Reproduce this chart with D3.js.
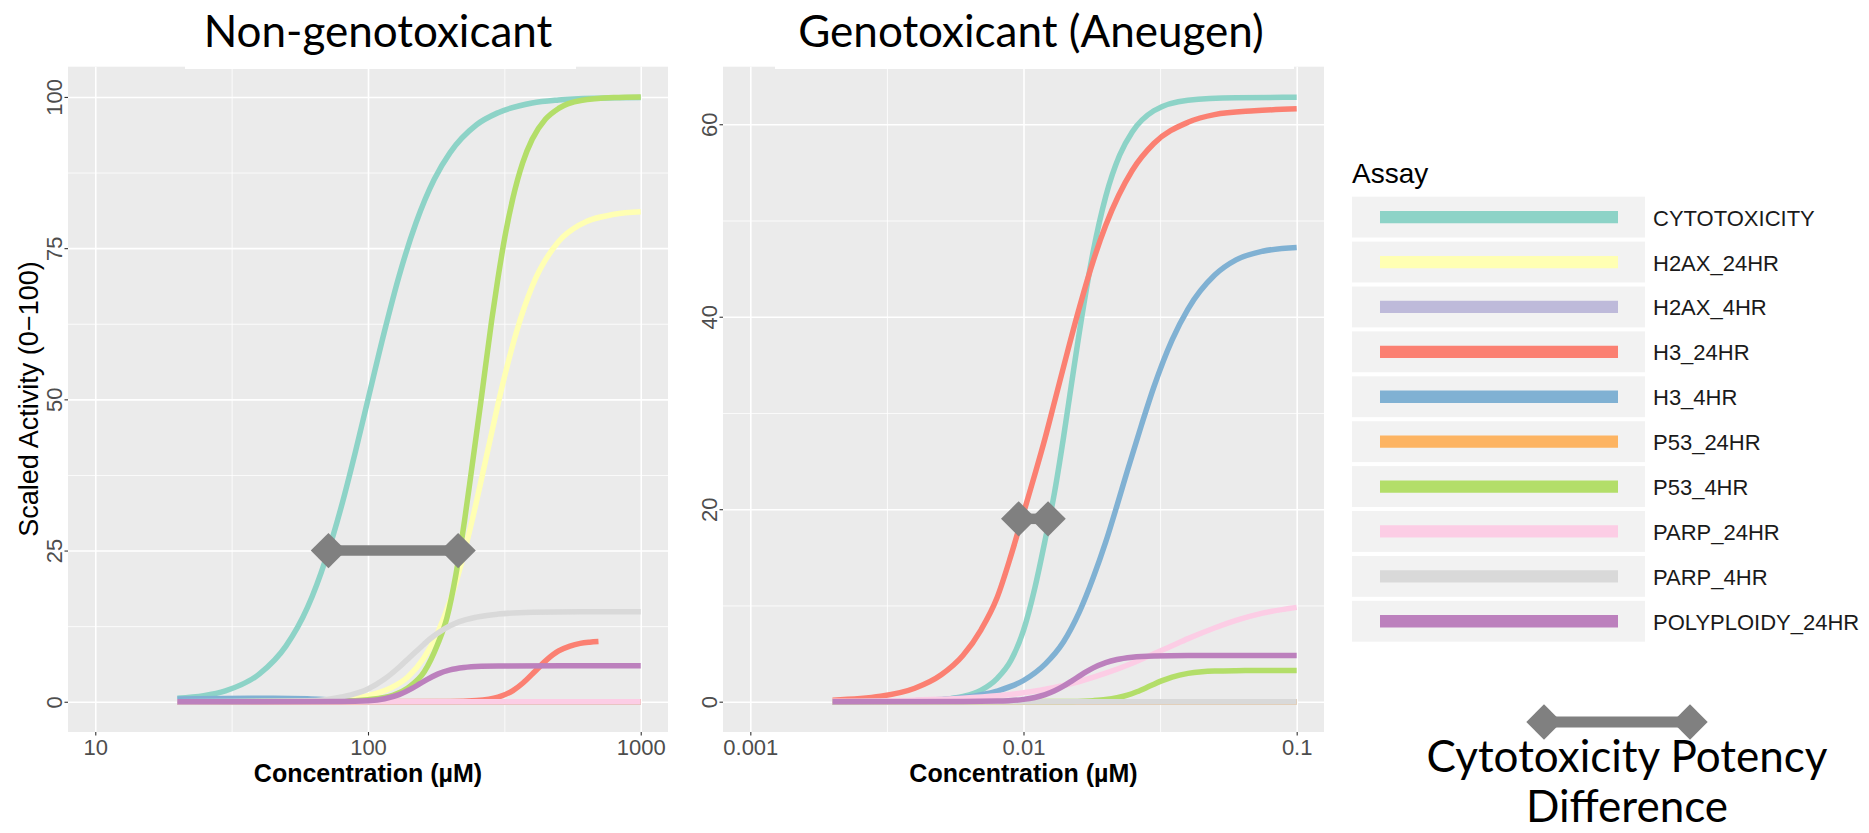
<!DOCTYPE html>
<html>
<head>
<meta charset="utf-8">
<title>Assay curves</title>
<script src="https://d3js.org/d3.v7.min.js"></script>
<style>
  body { margin: 0; background: #fff; }
  .grid line { stroke: #fff; }
  .grid .domain { stroke: none; }
  .axis .domain { stroke: none; }
  .axis line { stroke: #333; stroke-width: 1.1; }
  .axis text { fill: #4d4d4d; font-family: "Liberation Sans", Arial, sans-serif; font-size: 22px; }
</style>
</head>
<body>
<svg id="chart" width="1869" height="833"></svg>
<script>
// assays (legend order = draw order)
const assays = ["CYTOTOXICITY", "H2AX_24HR", "H2AX_4HR", "H3_24HR", "H3_4HR",
                "P53_24HR", "P53_4HR", "PARP_24HR", "PARP_4HR", "POLYPLOIDY_24HR"];
const assayColors = ["#8DD3C7", "#FFFFB3", "#BEBADA", "#FB8072", "#80B1D3",
                     "#FDB462", "#B3DE69", "#FCCDE5", "#D9D9D9", "#BC80BD"];

// ---- Non-genotoxicant: [concentration uM, scaled activity]
const nonCyto = [[20,0.6],[25,1.0],[30,1.8],[40,4.6],[50,9.2],[60,15.6],[70,23.6],[80,32.4],[90,41.4],[100,50],
  [115,61.3],[130,70.4],[150,79.2],[175,86.4],[200,90.8],[250,95.4],[300,97.4],[400,99],[500,99.5],[700,99.8],[1000,99.9]];
const nonH2ax24 = [[20,0],[60,0.1],[80,0.37],[100,1.0],[120,2.2],[140,4.1],[160,7.2],[180,11.4],[200,16.7],[220,22.9],
  [240,29.7],[260,36.6],[280,43.2],[300,49.3],[350,61.1],[400,68.7],[500,76.1],[600,78.9],[800,80.6],[1000,81.0]];
const nonH2ax4 = [[20,0],[1000,0]];
const nonH324 = [[20,0],[200,0.03],[250,0.19],[300,0.77],[340,1.85],[370,3.1],[410,5.05],[450,6.85],[500,8.4],
  [550,9.2],[600,9.65],[650,9.85],[700,9.96]];
const nonH34 = [[20,0.45],[30,0.55],[45,0.6],[60,0.5],[75,0.25],[90,0.08],[110,0],[1000,0]];
const nonP5324 = [[20,0],[1000,0]];
const nonP534 = [[20,0],[80,0.1],[100,0.35],[124,1.1],[140,2.3],[161,5],[180,9.5],[195,14],[210,21],[226,30],
  [240,38.5],[260,50],[284,63],[300,70.2],[318,77],[340,83.3],[369,89.1],[400,93],[447,96.3],[500,98.1],[603,99.4],[800,99.9],[1000,100]];
const nonParp24 = [[20,0],[1000,0]];
const nonParp4 = [[20,0],[60,0.15],[80,0.78],[100,2.1],[115,3.75],[130,5.7],[143,7.45],[155,8.9],[170,10.5],
  [190,12],[215,13.2],[250,14],[300,14.5],[400,14.8],[600,14.9],[1000,14.9]];
const nonPoly = [[20,0],[80,0.03],[100,0.17],[115,0.5],[130,1.17],[145,2.2],[155,2.98],[165,3.7],[180,4.57],
  [200,5.27],[225,5.66],[260,5.86],[300,5.92],[1000,5.95]];
const nonPotency = [71.6, 214];
const nonPotencyLevel = 25;

// ---- Genotoxicant (Aneugen)
const genoCyto = [[0.002,0],[0.004,0.06],[0.005,0.21],[0.006,0.54],[0.007,1.2],[0.008,2.4],[0.009,4.3],[0.010,7.4],
  [0.011,11.8],[0.012,16.8],[0.013,21.8],[0.014,27.4],[0.015,33.1],[0.0165,40.7],[0.018,46.8],[0.020,52.5],
  [0.0225,56.8],[0.025,59.2],[0.03,61.4],[0.04,62.5],[0.06,62.75],[0.1,62.8]];
const genoH2ax24 = [[0.002,0],[0.1,0]];
const genoH2ax4 = [[0.002,0],[0.1,0]];
const genoH324 = [[0.002,0.16],[0.003,0.56],[0.004,1.4],[0.005,2.8],[0.006,4.8],[0.007,7.5],[0.008,10.8],[0.009,15.2],
  [0.010,19.6],[0.011,23.6],[0.012,27.4],[0.013,31.2],[0.0145,36.4],[0.016,40.9],[0.018,45.8],[0.020,49.5],
  [0.025,55.2],[0.03,58],[0.04,60.2],[0.05,61.0],[0.07,61.4],[0.1,61.6]];
const genoH34 = [[0.002,0],[0.004,0.11],[0.006,0.43],[0.008,1.1],[0.010,2.2],[0.012,3.9],[0.014,6.2],[0.016,9.3],
  [0.018,12.9],[0.020,16.6],[0.022,20.4],[0.024,24],[0.027,28.7],[0.030,32.7],[0.035,37.6],[0.040,40.8],
  [0.050,44.3],[0.060,45.9],[0.075,46.8],[0.1,47.2]];
const genoP5324 = [[0.002,0],[0.1,0]];
const genoP534 = [[0.002,0],[0.012,0.01],[0.015,0.03],[0.018,0.11],[0.020,0.22],[0.022,0.41],[0.024,0.68],
  [0.026,1.03],[0.029,1.62],[0.032,2.16],[0.035,2.56],[0.040,2.94],[0.045,3.11],[0.050,3.18],[0.060,3.22],[0.1,3.25]];
const genoParp24 = [[0.002,0.04],[0.004,0.16],[0.006,0.35],[0.008,0.61],[0.010,0.93],[0.013,1.48],[0.016,2.1],
  [0.020,2.96],[0.025,4.0],[0.030,4.98],[0.035,5.82],[0.040,6.55],[0.050,7.66],[0.060,8.45],[0.075,9.2],[0.1,9.8]];
const genoParp4 = [[0.002,0],[0.1,0]];
const genoPoly = [[0.002,0],[0.006,0.01],[0.008,0.06],[0.010,0.24],[0.011,0.44],[0.012,0.73],[0.013,1.13],
  [0.014,1.61],[0.015,2.14],[0.016,2.65],[0.017,3.12],[0.018,3.51],[0.020,4.06],[0.022,4.38],[0.025,4.61],
  [0.03,4.74],[0.04,4.79],[0.1,4.8]];
const genoPotency = [0.0096, 0.0123];
const genoPotencyLevel = 19;

// ticks
const nonXTicks = [10, 100, 1000];
const nonXLabels = ["10", "100", "1000"];
const nonYTicks = [0, 25, 50, 75, 100];
const genoXTicks = [0.001, 0.01, 0.1];
const genoXLabels = ["0.001", "0.01", "0.1"];
const genoYTicks = [0, 20, 40, 60];

const svg = d3.select("#chart");
const font = '"Liberation Sans", Arial, sans-serif';
const titleFont = 'Lato, "Open Sans", sans-serif';

function drawPanel(p) {
  const x = d3.scaleLog().domain(p.xDomain).range([p.left, p.right]);
  const y = d3.scaleLinear().domain(p.yDomain).range([p.bottom, p.top]);
  const g = svg.append("g");

  g.append("rect")
    .attr("x", p.left).attr("y", p.top)
    .attr("width", p.right - p.left).attr("height", p.bottom - p.top)
    .attr("fill", "#EBEBEB");

  // minor grid (log midpoints / half steps)
  const xMinor = d3.pairs(p.xTicks).map(([a, b]) => Math.sqrt(a * b));
  const yMinor = d3.pairs(p.yTicks).map(([a, b]) => (a + b) / 2);
  const ph = p.bottom - p.top, pw = p.right - p.left;

  g.append("g").attr("class", "grid").attr("transform", `translate(0,${p.bottom})`)
    .call(d3.axisBottom(x).tickValues(xMinor).tickSize(-ph).tickFormat(""))
    .selectAll("line").attr("stroke-width", 0.8);
  g.append("g").attr("class", "grid").attr("transform", `translate(${p.left},0)`)
    .call(d3.axisLeft(y).tickValues(yMinor).tickSize(-pw).tickFormat(""))
    .selectAll("line").attr("stroke-width", 0.8);
  g.append("g").attr("class", "grid").attr("transform", `translate(0,${p.bottom})`)
    .call(d3.axisBottom(x).tickValues(p.xTicks).tickSize(-ph).tickFormat(""))
    .selectAll("line").attr("stroke-width", 1.6);
  g.append("g").attr("class", "grid").attr("transform", `translate(${p.left},0)`)
    .call(d3.axisLeft(y).tickValues(p.yTicks).tickSize(-pw).tickFormat(""))
    .selectAll("line").attr("stroke-width", 1.6);

  // curves
  const line = d3.line().x(d => x(d[0])).y(d => y(d[1])).curve(d3.curveMonotoneX);
  g.append("g").selectAll("path")
    .data(p.series)
    .join("path")
    .attr("d", line)
    .attr("fill", "none")
    .attr("stroke", (d, i) => assayColors[i])
    .attr("stroke-width", 5.5);

  // potency difference marker
  const mk = g.append("g");
  mk.append("line")
    .attr("x1", x(p.potency[0])).attr("x2", x(p.potency[1]))
    .attr("y1", y(p.potencyLevel)).attr("y2", y(p.potencyLevel))
    .attr("stroke", "#808080").attr("stroke-width", 10.5);
  mk.selectAll("path").data(p.potency).join("path")
    .attr("d", d3.symbol(d3.symbolSquare, 625))
    .attr("transform", d => `translate(${x(d)},${y(p.potencyLevel)}) rotate(45)`)
    .attr("fill", "#808080");

  // axes
  g.append("g").attr("class", "axis").attr("transform", `translate(0,${p.bottom})`)
    .call(d3.axisBottom(x).tickValues(p.xTicks).tickFormat((d, i) => p.xLabels[i]).tickSize(3.5).tickPadding(3.5));
  const ya = g.append("g").attr("class", "axis").attr("transform", `translate(${p.left},0)`)
    .call(d3.axisLeft(y).tickValues(p.yTicks).tickSize(3.5));
  ya.selectAll(".tick text")
    .attr("transform", "rotate(-90)")
    .attr("x", 0).attr("y", -6).attr("dy", 0)
    .attr("text-anchor", "middle");

  g.append("text")
    .attr("x", (p.left + p.right) / 2).attr("y", 782)
    .attr("text-anchor", "middle")
    .attr("font-family", font).attr("font-weight", "bold").attr("font-size", 25)
    .text("Concentration (\u00b5M)");

  // pasted title with its white box
  g.append("rect")
    .attr("x", p.titleBox[0]).attr("y", 0)
    .attr("width", p.titleBox[1] - p.titleBox[0]).attr("height", 69)
    .attr("fill", "#fff");
  g.append("text")
    .attr("x", p.titleX).attr("y", 47)
    .attr("text-anchor", "middle")
    .attr("font-family", titleFont).attr("font-size", 44)
    .text(p.title);
}

drawPanel({
  title: "Non-genotoxicant", titleX: 378, titleBox: [185, 576],
  left: 68, right: 668, top: 66.7, bottom: 732,
  xDomain: [Math.pow(10, 0.9), Math.pow(10, 3.1)], yDomain: [-5, 105],
  xTicks: nonXTicks, xLabels: nonXLabels, yTicks: nonYTicks,
  series: [nonCyto, nonH2ax24, nonH2ax4, nonH324, nonH34, nonP5324, nonP534, nonParp24, nonParp4, nonPoly],
  potency: nonPotency, potencyLevel: nonPotencyLevel
});

drawPanel({
  title: "Genotoxicant (Aneugen)", titleX: 1031, titleBox: [775, 1294],
  left: 723, right: 1324, top: 66.7, bottom: 732,
  xDomain: [Math.pow(10, -3.1), Math.pow(10, -0.9)], yDomain: [-3.15, 65.98],
  xTicks: genoXTicks, xLabels: genoXLabels, yTicks: genoYTicks,
  series: [genoCyto, genoH2ax24, genoH2ax4, genoH324, genoH34, genoP5324, genoP534, genoParp24, genoParp4, genoPoly],
  potency: genoPotency, potencyLevel: genoPotencyLevel
});

// y axis title (left panel only)
svg.append("text")
  .attr("transform", "translate(38,399) rotate(-90)")
  .attr("text-anchor", "middle")
  .attr("font-family", font).attr("font-size", 27)
  .text("Scaled Activity (0\u2212100)");

// legend
const legend = svg.append("g").attr("transform", "translate(1352,0)");
legend.append("text")
  .attr("x", 0).attr("y", 183)
  .attr("font-family", font).attr("font-size", 28)
  .text("Assay");
const keyY = d3.scaleBand().domain(assays).range([196.7, 196.7 + 44.5 * assays.length]).paddingInner(0.09);
const keys = legend.selectAll(".key").data(assays).join("g")
  .attr("class", "key")
  .attr("transform", d => `translate(0,${keyY(d)})`);
keys.append("rect")
  .attr("width", 293).attr("height", keyY.bandwidth())
  .attr("fill", "#F2F2F2");
keys.append("line")
  .attr("x1", 28).attr("x2", 266)
  .attr("y1", keyY.bandwidth() / 2).attr("y2", keyY.bandwidth() / 2)
  .attr("stroke", (d, i) => assayColors[i]).attr("stroke-width", 12.3);
keys.append("text")
  .attr("x", 301).attr("y", keyY.bandwidth() / 2 + 8.5)
  .attr("font-family", font).attr("font-size", 22).attr("fill", "#1a1a1a")
  .text(d => d);

// potency difference key
const pk = svg.append("g");
const pkX = [1544, 1690], pkY = 722;
pk.append("line")
  .attr("x1", pkX[0]).attr("x2", pkX[1]).attr("y1", pkY).attr("y2", pkY)
  .attr("stroke", "#808080").attr("stroke-width", 11);
pk.selectAll("path").data(pkX).join("path")
  .attr("d", d3.symbol(d3.symbolSquare, 625))
  .attr("transform", d => `translate(${d},${pkY}) rotate(45)`)
  .attr("fill", "#808080");
pk.append("text").attr("x", 1627).attr("y", 772)
  .attr("text-anchor", "middle").attr("font-family", titleFont).attr("font-size", 44)
  .text("Cytotoxicity Potency");
pk.append("text").attr("x", 1627).attr("y", 822)
  .attr("text-anchor", "middle").attr("font-family", titleFont).attr("font-size", 44)
  .text("Difference");
</script>
</body>
</html>
